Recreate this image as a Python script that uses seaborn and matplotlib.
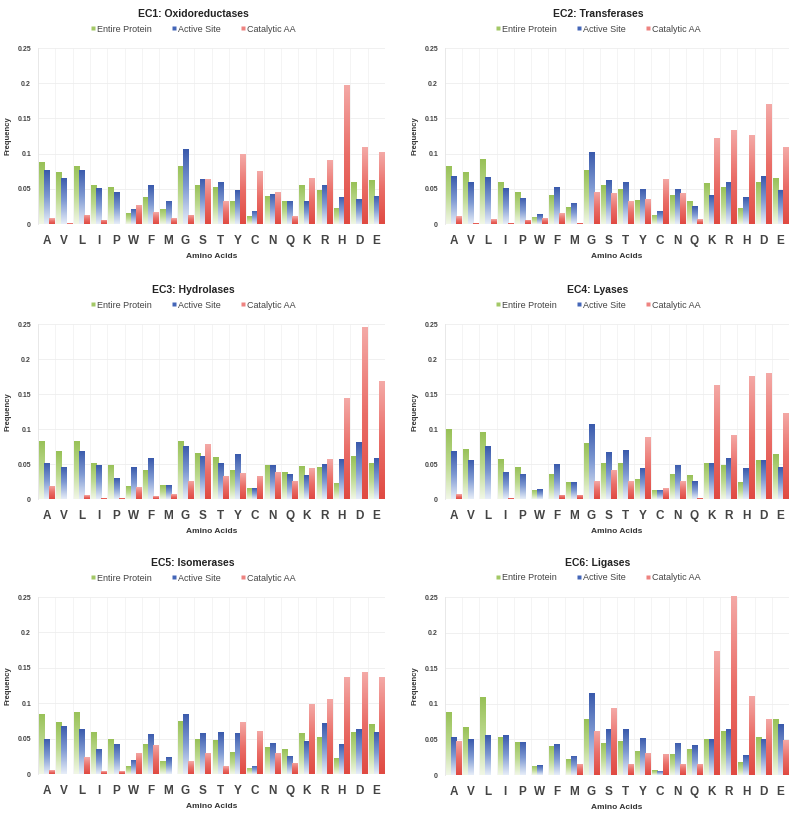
import numpy as np
import pandas as pd
import matplotlib
matplotlib.use("Agg")
import matplotlib.pyplot as plt
from matplotlib.colors import LinearSegmentedColormap
from matplotlib.lines import Line2D
import seaborn as sns

amino_acids = ["A", "V", "L", "I", "P", "W", "F", "M", "G", "S",
               "T", "Y", "C", "N", "Q", "K", "R", "H", "D", "E"]
series_names = ["Entire Protein", "Active Site", "Catalytic AA"]
titles = ["EC1: Oxidoreductases", "EC2: Transferases", "EC3: Hydrolases",
          "EC4: Lyases", "EC5: Isomerases", "EC6: Ligases"]

ec1_entire = [0.088, 0.074, 0.083, 0.056, 0.052, 0.015, 0.038, 0.022, 0.083, 0.055,
              0.052, 0.033, 0.011, 0.040, 0.033, 0.056, 0.048, 0.023, 0.059, 0.062]
ec1_active = [0.076, 0.066, 0.077, 0.051, 0.045, 0.022, 0.055, 0.033, 0.106, 0.064,
              0.060, 0.048, 0.019, 0.043, 0.033, 0.032, 0.056, 0.039, 0.036, 0.040]
ec1_catal = [0.008, 0.001, 0.013, 0.006, 0.000, 0.027, 0.017, 0.008, 0.013, 0.064,
             0.032, 0.099, 0.075, 0.045, 0.011, 0.066, 0.091, 0.198, 0.109, 0.102]

ec2_entire = [0.083, 0.074, 0.092, 0.060, 0.045, 0.010, 0.041, 0.024, 0.076, 0.055,
              0.050, 0.034, 0.013, 0.041, 0.033, 0.058, 0.052, 0.023, 0.059, 0.066]
ec2_active = [0.068, 0.059, 0.067, 0.051, 0.037, 0.014, 0.052, 0.030, 0.102, 0.063,
              0.060, 0.050, 0.019, 0.050, 0.025, 0.041, 0.060, 0.038, 0.068, 0.049]
ec2_catal = [0.011, 0.002, 0.007, 0.002, 0.006, 0.008, 0.015, 0.002, 0.046, 0.044,
             0.032, 0.035, 0.064, 0.044, 0.007, 0.122, 0.133, 0.126, 0.170, 0.109]

ec3_entire = [0.083, 0.068, 0.083, 0.052, 0.049, 0.018, 0.041, 0.020, 0.083, 0.065,
              0.060, 0.041, 0.015, 0.048, 0.038, 0.047, 0.045, 0.023, 0.061, 0.052]
ec3_active = [0.052, 0.046, 0.069, 0.048, 0.030, 0.045, 0.058, 0.020, 0.076, 0.062,
              0.051, 0.064, 0.015, 0.048, 0.035, 0.034, 0.050, 0.057, 0.081, 0.058]
ec3_catal = [0.019, 0.000, 0.005, 0.002, 0.002, 0.017, 0.004, 0.007, 0.026, 0.078,
             0.033, 0.037, 0.033, 0.039, 0.026, 0.044, 0.057, 0.144, 0.245, 0.168]

ec4_entire = [0.100, 0.072, 0.095, 0.057, 0.045, 0.013, 0.035, 0.024, 0.080, 0.052,
              0.051, 0.029, 0.013, 0.036, 0.034, 0.052, 0.049, 0.024, 0.055, 0.064]
ec4_active = [0.068, 0.056, 0.075, 0.039, 0.036, 0.014, 0.050, 0.024, 0.107, 0.067,
              0.070, 0.044, 0.013, 0.049, 0.025, 0.052, 0.058, 0.044, 0.055, 0.045]
ec4_catal = [0.007, 0.000, 0.000, 0.002, 0.000, 0.000, 0.006, 0.006, 0.025, 0.042,
             0.025, 0.088, 0.015, 0.025, 0.002, 0.163, 0.092, 0.176, 0.180, 0.123]

ec5_entire = [0.085, 0.073, 0.088, 0.060, 0.050, 0.011, 0.043, 0.019, 0.075, 0.049,
              0.048, 0.031, 0.009, 0.038, 0.035, 0.058, 0.052, 0.022, 0.060, 0.070]
ec5_active = [0.050, 0.068, 0.063, 0.036, 0.043, 0.020, 0.057, 0.024, 0.085, 0.058,
              0.059, 0.058, 0.012, 0.044, 0.026, 0.046, 0.072, 0.043, 0.064, 0.059]
ec5_catal = [0.005, 0.000, 0.024, 0.004, 0.004, 0.030, 0.041, 0.000, 0.018, 0.030,
             0.011, 0.074, 0.061, 0.030, 0.016, 0.099, 0.106, 0.137, 0.144, 0.137]

ec6_entire = [0.089, 0.067, 0.109, 0.054, 0.047, 0.013, 0.041, 0.022, 0.078, 0.045,
              0.048, 0.034, 0.007, 0.030, 0.037, 0.051, 0.062, 0.018, 0.054, 0.079]
ec6_active = [0.053, 0.050, 0.056, 0.056, 0.047, 0.014, 0.044, 0.027, 0.115, 0.064,
              0.064, 0.052, 0.006, 0.045, 0.042, 0.050, 0.065, 0.028, 0.051, 0.071]
ec6_catal = [0.048, 0.000, 0.000, 0.000, 0.000, 0.000, 0.000, 0.016, 0.062, 0.094,
             0.016, 0.031, 0.030, 0.016, 0.016, 0.174, 0.252, 0.111, 0.079, 0.049]

panels = [
    (ec1_entire, ec1_active, ec1_catal),
    (ec2_entire, ec2_active, ec2_catal),
    (ec3_entire, ec3_active, ec3_catal),
    (ec4_entire, ec4_active, ec4_catal),
    (ec5_entire, ec5_active, ec5_catal),
    (ec6_entire, ec6_active, ec6_catal),
]

y_ticks = [0, 0.05, 0.1, 0.15, 0.2, 0.25]
y_tick_labels = ["0", "0.05", "0.1", "0.15", "0.2", "0.25"]

sns.set_theme(style="white")
plt.rcParams["font.family"] = ["Liberation Sans", "DejaVu Sans"]

legend_colors = ["#a3c866", "#4466b8", "#ee8380"]
grad_maps = [
    LinearSegmentedColormap.from_list("g", ["#f1f7e6", "#bcd98e", "#98c157"]),
    LinearSegmentedColormap.from_list("b", ["#e6edf8", "#7f9ad3", "#3a5aac"]),
    LinearSegmentedColormap.from_list("r", ["#e04a42", "#ea6e68", "#f4a9a6"]),
]

fig = plt.figure(figsize=(8.0, 8.13), dpi=100)
W, H = 800.0, 813.0
# axes boxes in pixels: (left, top, right, bottom)
boxes = [
    (38, 48, 385, 224), (445, 48, 789, 224),
    (38, 324, 385, 499), (445, 324, 789, 499),
    (38, 597, 385, 774), (445, 597, 789, 775),
]
# horizontal centre of title / legend, in pixels
centres = [193, 598, 193, 598, 193, 598]

text_col = "#333333"

for idx, (vals, box) in enumerate(zip(panels, boxes)):
    l, t, r, b = box
    ax = fig.add_axes([l / W, 1 - b / H, (r - l) / W, (b - t) / H])
    df = pd.DataFrame({
        "Amino Acid": amino_acids * 3,
        "Series": np.repeat(series_names, len(amino_acids)),
        "Frequency": list(vals[0]) + list(vals[1]) + list(vals[2]),
    })
    sns.barplot(data=df, x="Amino Acid", y="Frequency", hue="Series",
                hue_order=series_names, order=amino_acids,
                palette=legend_colors, width=0.88, ax=ax, legend=False,
                saturation=1, zorder=2)
    grad = np.linspace(0, 1, 64).reshape(-1, 1)
    for ci, cont in enumerate(ax.containers):
        for patch in cont.patches:
            x0 = patch.get_x()
            w = patch.get_width()
            h = patch.get_height()
            if h <= 0:
                continue
            im = ax.imshow(grad, extent=[x0, x0 + w, 0, h], origin="lower",
                           aspect="auto", cmap=grad_maps[ci], zorder=3,
                           interpolation="bilinear")
            im.set_clip_path(patch)
            patch.set_facecolor("none")
            patch.set_edgecolor("none")
    ax.set_xlim(-0.5, len(amino_acids) - 0.5)
    ax.set_ylim(0, 0.25)
    ax.set_yticks(y_ticks)
    ax.set_yticklabels(y_tick_labels)
    ax.set_xticks(range(len(amino_acids)))
    ax.set_xticklabels(amino_acids)
    ax.set_xticks(np.arange(-0.5, len(amino_acids) + 0.5, 1), minor=True)
    ax.grid(True, axis="y", color="#eeeeee", linewidth=0.6, zorder=0)
    ax.grid(True, axis="x", which="minor", color="#f2f2f2", linewidth=0.6, zorder=0)
    ax.grid(False, axis="x", which="major")
    ax.set_axisbelow(True)
    for s in ["top", "right", "bottom"]:
        ax.spines[s].set_visible(False)
    ax.spines["left"].set_color("#e6e6e6")
    ax.spines["left"].set_linewidth(0.6)
    ax.tick_params(axis="x", which="both", length=0, pad=8, labelsize=8.5,
                   labelcolor="#444444")
    for lab in ax.get_xticklabels():
        lab.set_fontweight("bold")
    ax.tick_params(axis="y", length=0, pad=5, labelsize=5, labelcolor="#444444")
    for lab in ax.get_yticklabels():
        lab.set_fontweight("bold")
    ax.set_xlabel("Amino Acids", fontsize=6, fontweight="bold", color=text_col,
                  labelpad=4)
    ax.set_ylabel("Frequency", fontsize=5.5, fontweight="bold", color=text_col,
                  labelpad=4)
    xc = (centres[idx] - l) / (r - l)
    ax.set_title(titles[idx], fontsize=7.5, fontweight="bold", color="#222222",
                 x=xc, pad=22)
    handles = [Line2D([0], [0], marker="s", linestyle="none", markersize=3,
                      markerfacecolor=c, markeredgecolor="none") for c in legend_colors]
    ax.legend(handles, series_names, loc="center",
              bbox_to_anchor=(xc, 1 + 19.0 / (b - t)), ncol=3, frameon=False,
              fontsize=6.5, handletextpad=0.1, columnspacing=2.2,
              labelcolor="#444444", borderaxespad=0, handlelength=0.6)

fig.savefig("out.png", dpi=100, facecolor="white")
